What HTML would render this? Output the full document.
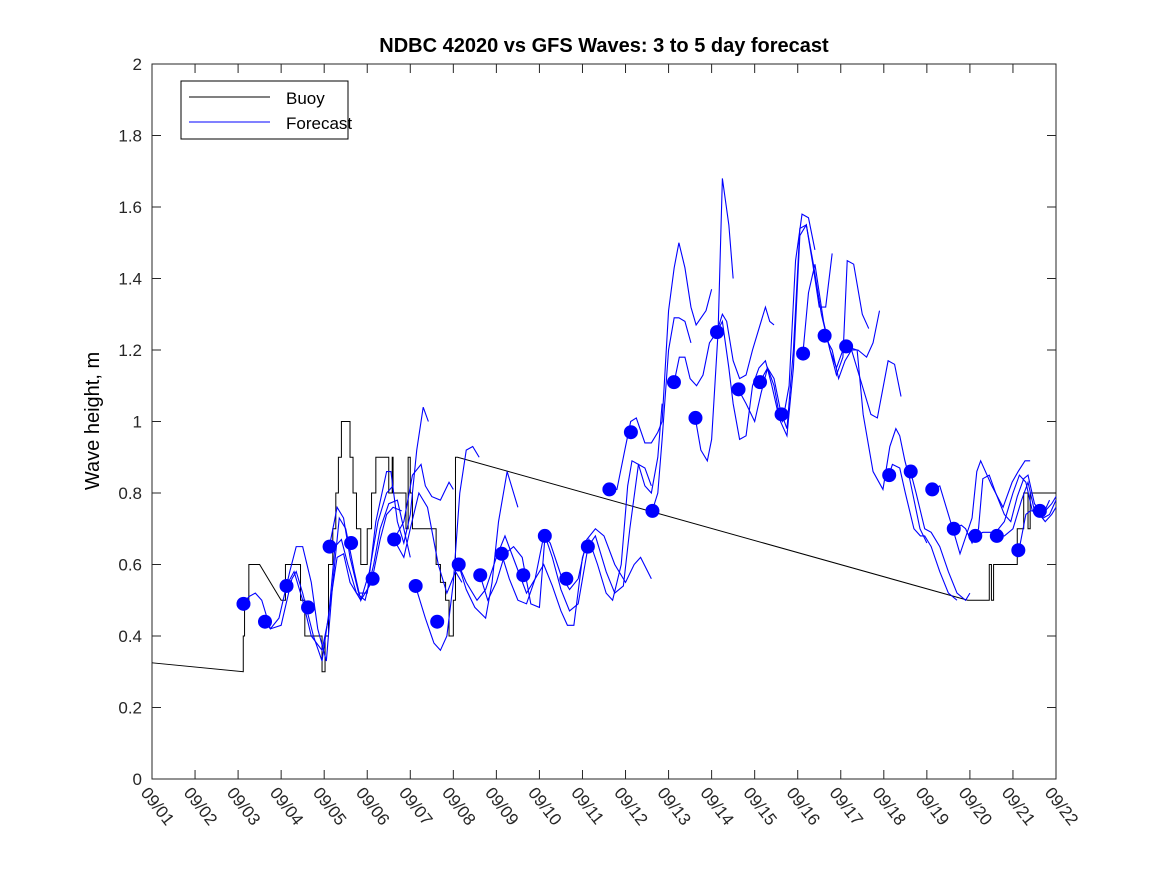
<!DOCTYPE html>
<html><head><meta charset="utf-8"><style>
body{margin:0;background:#fff}
svg{display:block;font-family:"Liberation Sans",sans-serif}
</style></head><body>
<svg id="chart" width="1167" height="875">
<rect x="0" y="0" width="1167" height="875" fill="#fff"/>
<text x="604" y="52" text-anchor="middle" font-size="20" font-weight="bold">NDBC 42020 vs GFS Waves: 3 to 5 day forecast</text>
<text transform="translate(99,421) rotate(-90)" text-anchor="middle" font-size="20">Wave height, m</text>
<g id="plot"></g>
<g id="legend">
<rect x="181" y="81" width="167" height="58" fill="#fff" stroke="#000" stroke-width="1"/>
<line x1="189" y1="97" x2="270" y2="97" stroke="#000"/>
<text x="286" y="104" font-size="17">Buoy</text>
<line x1="189" y1="122" x2="270" y2="122" stroke="#00f"/>
<text x="286" y="129" font-size="17">Forecast</text>
</g>
</svg>
<script>
const xTickLabels=["09/01","09/02","09/03","09/04","09/05","09/06","09/07","09/08","09/09","09/10","09/11","09/12","09/13","09/14","09/15","09/16","09/17","09/18","09/19","09/20","09/21","09/22"];
const yTicks=[0,0.2,0.4,0.6,0.8,1,1.2,1.4,1.6,1.8,2];
const yTickLabels=["0","0.2","0.4","0.6","0.8","1","1.2","1.4","1.6","1.8","2"];
const dotStart=2.125;
const dotValues=[0.49,0.44,0.54,0.48,0.65,0.66,0.56,0.67,0.54,0.44,0.60,0.57,0.63,0.57,0.68,0.56,0.65,0.81,0.97,0.75,1.11,1.01,1.25,1.09,1.11,1.02,1.19,1.24,1.21,null,0.85,0.86,0.81,0.70,0.68,0.68,0.64,0.75];
const buoyDays=[0,2.12,2.12,2.15,2.15,2.25,2.25,2.5,3.0,3.0,3.1,3.1,3.45,3.45,3.55,3.55,3.95,3.95,4.02,4.02,4.1,4.1,4.2,4.2,4.27,4.27,4.33,4.33,4.4,4.4,4.6,4.6,4.67,4.67,4.75,4.75,4.85,4.85,5.0,5.0,5.1,5.1,5.2,5.2,5.3,5.3,5.5,5.5,5.58,5.58,5.6,5.6,5.9,5.9,5.95,5.95,6.0,6.0,6.05,6.05,6.6,6.6,6.7,6.7,6.82,6.82,6.9,6.9,7.0,7.0,7.05,7.05,7.1,7.1,18.95,19.45,19.45,19.5,19.5,19.55,19.55,19.6,19.6,19.75,19.75,20.1,20.1,20.25,20.25,20.35,20.35,20.4,20.4,21.0];
const buoyValues=[0.325,0.30,0.40,0.40,0.50,0.50,0.60,0.60,0.50,0.50,0.50,0.60,0.60,0.50,0.50,0.40,0.40,0.30,0.30,0.40,0.40,0.60,0.60,0.70,0.70,0.80,0.80,0.90,0.90,1.00,1.00,0.90,0.90,0.80,0.80,0.70,0.70,0.60,0.60,0.70,0.70,0.80,0.80,0.90,0.90,0.90,0.90,0.80,0.80,0.90,0.90,0.80,0.80,0.70,0.70,0.90,0.90,0.80,0.80,0.70,0.70,0.60,0.60,0.55,0.55,0.50,0.50,0.40,0.40,0.50,0.50,0.90,0.90,0.90,0.50,0.50,0.60,0.60,0.50,0.50,0.60,0.60,0.60,0.60,0.60,0.60,0.70,0.70,0.80,0.80,0.70,0.70,0.80,0.80];
const fcDays=[
[2.12,2.25,2.4,2.55,2.75,3.0,3.25,3.35,3.5,3.75,3.95,4.15,4.3,4.45,4.6,4.85,5.1,5.3,5.45,5.6,5.8],
[2.62,2.75,2.95,3.2,3.35,3.5,3.7,3.85,4.05,4.2,4.35,4.5,4.7,4.85,5.05,5.25,5.45,5.6],
[3.12,3.3,3.5,3.7,3.95,4.1,4.25,4.4,4.55,4.75,4.95,5.15,5.3,5.5,5.7,5.85,6.0],
[4.12,4.3,4.45,4.6,4.8,5.0,5.2,5.45,5.55,5.7,5.85,6.0,6.15,6.3,6.42],
[5.62,5.85,6.05,6.25,6.35,6.5,6.7,6.9,7.0],
[5.62,5.85,6.0,6.2,6.4,6.65,6.85,7.05,7.2],
[6.12,6.35,6.55,6.7,6.85,7.0,7.15,7.3,7.45,7.6],
[7.12,7.3,7.5,7.75,7.9,8.05,8.25,8.4,8.5],
[7.12,7.3,7.55,7.75,8.0,8.2,8.45,8.7,8.9,9.1,9.25,9.5,9.7,9.9,10.1,10.3,10.5,10.75,11.0,11.2,11.35,11.6],
[7.62,7.8,8.0,8.2,8.4,8.6,8.8,9.0,9.13,9.3,9.5,9.7,9.9,10.13,10.3,10.55,10.75,10.95,11.1,11.3,11.45,11.6],
[8.12,8.3,8.5,8.7,8.9,9.1,9.3,9.5,9.65,9.8,10.0,10.15,10.35,10.55,10.7,10.9,11.05,11.15,11.3,11.45,11.6,11.75,11.85],
[10.62,10.8,11.0,11.12,11.25,11.45,11.6,11.75,11.85,12.0,12.13,12.24,12.38,12.52,12.64,12.87,13.0],
[11.62,11.75,11.85,12.0,12.13,12.24,12.38,12.52],
[12.13,12.25,12.38,12.5,12.65,12.8,12.95,13.12,13.25,13.35,13.5,13.65,13.8,13.95,14.1,14.25,14.35,14.45],
[12.62,12.75,12.9,13.0,13.15,13.25,13.4,13.5],
[13.12,13.25,13.4,13.5,13.65,13.8,13.95,14.1,14.25,14.4,14.55,14.65,14.8,14.95,15.1,15.25,15.4],
[13.62,13.8,14.0,14.15,14.3,14.45,14.6,14.75,14.9,15.05,15.2,15.35,15.5,15.65,15.8],
[14.12,14.3,14.45,14.6,14.75,14.9,15.05,15.2,15.35,15.55,15.75,15.9,16.05,16.15,16.3,16.5,16.65],
[15.12,15.25,15.4,15.6,15.75,15.9,16.05,16.2,16.4,16.6,16.75,16.9],
[15.62,15.8,15.95,16.1,16.25,16.5,16.7,16.85,17.1,17.25,17.4],
[16.12,16.38,16.52,16.75,16.98,17.14,17.28,17.37,17.49,17.6,17.84,18.0],
[17.12,17.2,17.37,17.5,17.7,17.85,17.95,18.1,18.3,18.5,18.7],
[17.62,17.75,17.95,18.1,18.3,18.5,18.7,18.9,19.0],
[18.12,18.3,18.65,18.77,19.05,19.16,19.25,19.51,19.77,19.98,20.12,20.28,20.4],
[18.63,18.8,18.9,19.05,19.2,19.3,19.45,19.6,19.8,19.95,20.1,20.25,20.35,20.5,20.7,20.85],
[19.14,19.3,19.45,19.6,19.8,20.0,20.15,20.3,20.45,20.6,20.75,20.9,21.0],
[19.63,19.8,20.0,20.2,20.35,20.5,20.7,20.85,21.0],
[20.14,20.3,20.4,20.55,20.75,20.9,21.0]
];
const fcValues=[
[0.49,0.51,0.52,0.50,0.42,0.43,0.56,0.58,0.52,0.40,0.33,0.50,0.62,0.63,0.55,0.50,0.55,0.67,0.74,0.76,0.75],
[0.44,0.42,0.45,0.58,0.65,0.65,0.55,0.42,0.33,0.55,0.73,0.70,0.58,0.50,0.58,0.72,0.80,0.82],
[0.54,0.58,0.50,0.40,0.36,0.45,0.65,0.67,0.60,0.52,0.50,0.60,0.70,0.77,0.78,0.70,0.62],
[0.65,0.76,0.73,0.62,0.52,0.52,0.72,0.86,0.86,0.72,0.66,0.74,0.92,1.04,1.00],
[0.67,0.72,0.85,0.88,0.82,0.79,0.78,0.83,0.81],
[0.67,0.62,0.70,0.80,0.76,0.60,0.52,0.58,0.55],
[0.54,0.45,0.38,0.36,0.40,0.55,0.80,0.92,0.93,0.90],
[0.60,0.53,0.48,0.45,0.55,0.72,0.86,0.80,0.76],
[0.60,0.55,0.50,0.53,0.62,0.68,0.60,0.52,0.56,0.68,0.66,0.57,0.53,0.56,0.67,0.70,0.68,0.60,0.55,0.60,0.62,0.56],
[0.57,0.50,0.55,0.63,0.65,0.62,0.49,0.48,0.68,0.62,0.53,0.47,0.49,0.65,0.68,0.58,0.52,0.54,0.70,0.88,0.87,0.82],
[0.63,0.56,0.50,0.49,0.56,0.60,0.54,0.47,0.43,0.43,0.62,0.67,0.60,0.52,0.50,0.60,0.82,0.89,0.88,0.82,0.80,0.90,1.05],
[0.81,0.81,0.93,1.00,1.01,0.94,0.94,0.97,1.00,1.31,1.43,1.50,1.43,1.32,1.27,1.31,1.37],
[0.75,0.80,0.95,1.20,1.29,1.29,1.28,1.22],
[1.11,1.18,1.18,1.12,1.10,1.13,1.22,1.25,1.30,1.28,1.17,1.12,1.13,1.20,1.26,1.32,1.28,1.27],
[1.01,0.92,0.89,0.95,1.25,1.68,1.55,1.40],
[1.25,1.28,1.15,1.05,0.95,0.96,1.10,1.15,1.17,1.10,1.02,1.00,1.10,1.45,1.58,1.57,1.48],
[1.09,1.05,1.00,1.08,1.15,1.12,1.03,0.98,1.20,1.54,1.55,1.44,1.32,1.32,1.47],
[1.11,1.15,1.10,1.00,0.96,1.15,1.52,1.55,1.45,1.30,1.20,1.13,1.18,1.45,1.44,1.30,1.26],
[1.19,1.36,1.44,1.28,1.20,1.15,1.20,1.20,1.20,1.18,1.22,1.31],
[1.24,1.20,1.12,1.17,1.20,1.10,1.02,1.01,1.17,1.16,1.07],
[1.21,1.20,1.02,0.86,0.81,0.93,0.98,0.96,0.89,0.84,0.70,0.66],
[0.85,0.88,0.87,0.80,0.70,0.68,0.68,0.65,0.58,0.52,0.50],
[0.86,0.80,0.70,0.69,0.65,0.58,0.52,0.50,0.52],
[0.81,0.82,0.68,0.63,0.73,0.86,0.89,0.82,0.76,0.83,0.86,0.89,0.89],
[0.70,0.71,0.70,0.66,0.70,0.84,0.85,0.80,0.74,0.72,0.79,0.84,0.85,0.77,0.74,0.78],
[0.68,0.69,0.69,0.69,0.72,0.80,0.85,0.83,0.75,0.74,0.75,0.77,0.79],
[0.68,0.68,0.70,0.78,0.83,0.75,0.73,0.74,0.78],
[0.64,0.74,0.75,0.75,0.72,0.74,0.76]
];
const NS="http://www.w3.org/2000/svg";
const L=152,R=1056,T=64,B=779;
const xScale=d=>L+(R-L)*d/21;
const yScale=v=>B-(B-T)*v/2;
const plot=document.getElementById('plot');
function mk(tag,attrs,parent){const e=document.createElementNS(NS,tag);for(const k in attrs)e.setAttribute(k,attrs[k]);(parent||plot).appendChild(e);return e;}
// axes box
const box=mk('rect',{x:L,y:T,width:R-L,height:B-T,fill:'none',stroke:'#262626','stroke-width':1});


yTicks.forEach((v,i)=>{
 const y=yScale(v);
 const t1=mk('path',{d:`M${L},${y}h9M${R},${y}h-9`,stroke:'#262626'});
 
 
 const lb=mk('text',{x:L-10,y:y+6,'text-anchor':'end','font-size':17,fill:'#262626'});
 lb.textContent=yTickLabels[i];
 
 
});
xTickLabels.forEach((s,i)=>{
 const x=xScale(i);
 const t1=mk('path',{d:`M${x},${B}v-9M${x},${T}v9`,stroke:'#262626'});
 
 
 const lb=mk('text',{transform:`translate(${x-12},${793}) rotate(52)`,'font-size':17,fill:'#262626'});
 lb.textContent=s;
 
 
});
// buoy
const bp=mk('polyline',{points:buoyDays.map((d,i)=>xScale(d)+','+yScale(buoyValues[i])).join(' '),fill:'none',stroke:'#000','stroke-width':1});


// forecasts
fcDays.forEach((ds,j)=>{
 const p=mk('polyline',{points:ds.map((d,i)=>xScale(d)+','+yScale(fcValues[j][i])).join(' '),fill:'none',stroke:'#00f','stroke-width':1.1});
 
 
});
// dots
dotValues.forEach((v,i)=>{
 if(v===null)return;
 const c=mk('circle',{cx:xScale(dotStart+0.5*i),cy:yScale(v),r:7,fill:'#00f'});
 
 
});
</script>
</body></html>
